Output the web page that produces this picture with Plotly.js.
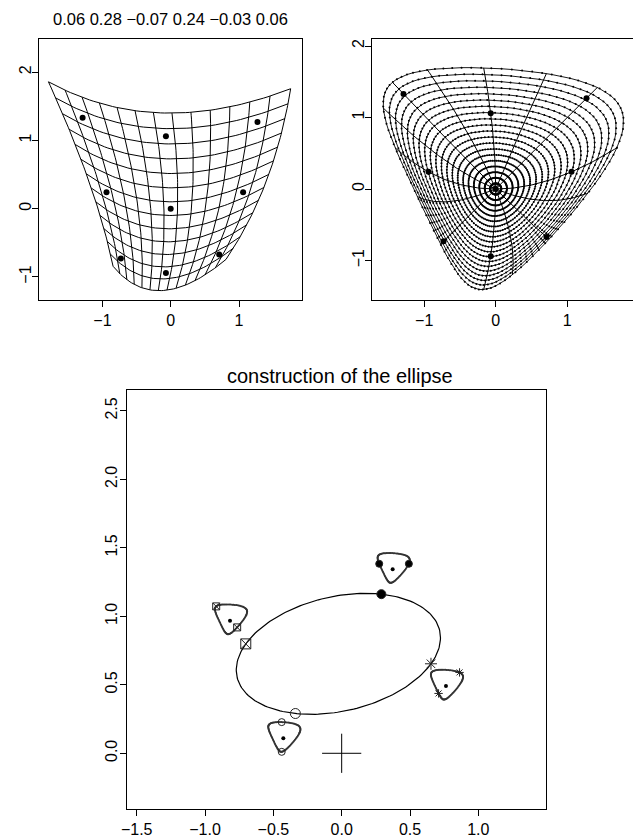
<!DOCTYPE html>
<html>
<head>
<meta charset="utf-8">
<script src="https://cdn.plot.ly/plotly-3.0.1.min.js"></script>
<style>
  html, body { margin: 0; padding: 0; background: #fff; overflow: hidden; }
  #chart { width: 633px; height: 839px; }
</style>
</head>
<body>
<div id="chart"></div>
<script>
// Coefficients of the quadratic map (u,v) -> (x,y):
// x = u + c0 u^2 + c1 uv + c2 v^2,  y = v + c3 u^2 + c4 uv + c5 v^2
const coefs = [0.06, 0.28, -0.07, 0.24, -0.03, 0.06];

// design points: every (u,v) pair from these levels
const designLevels = [-1, 0, 1];

// rectangular mesh levels in the (u,v) plane
const gridLevels = [-1.3, -1.1, -0.9, -0.7, -0.5, -0.3, -0.1, 0.1, 0.3, 0.5, 0.7, 0.9, 1.1, 1.3];

// polar mesh: circle radii and spoke directions (degrees)
const circleRadii = [0.0775, 0.155, 0.2325, 0.31, 0.3875, 0.465, 0.5425, 0.62, 0.6975, 0.775,
                     0.8525, 0.93, 1.0075, 1.085, 1.1625, 1.24, 1.3175, 1.395, 1.4725, 1.55];
const spokeAngles = [0, 45, 67.5, 90, 112.5, 135, 157.5, 180, 202.5, 225, 270, 292.5, 315, 337.5];

// ellipse of the quadratic part, traced for directions of this length
const ellipseRadius = 2.2;

// the four marked directions (degrees) and their symbols
const markedAngles = [0, 45, 90, 135];
const markedSymbols = ['circle', 'asterisk-open', 'circle-open', 'square-x-open'];

// centres of the small copies of the outer boundary, one per marked direction
const glyphCenterX = [0.373, 0.763, -0.427, -0.817];
const glyphCenterY = [1.343, 0.491, 0.109, 0.968];
const glyphShrink = 0.07;

const titleTop = coefs.map(v => (v < 0 ? '\u2212' + Math.abs(v).toFixed(2) : v.toFixed(2))).join(' ');

function quad(u, v) {
  const [a, b, c, d, e, f] = coefs;
  return [a * u * u + b * u * v + c * v * v, d * u * u + e * u * v + f * v * v];
}
function mapUV(u, v) {
  const q = quad(u, v);
  return [u + q[0], v + q[1]];
}
function linspace(a, b, n) {
  const out = [];
  for (let i = 0; i < n; i++) out.push(a + (b - a) * i / (n - 1));
  return out;
}
const rad = d => d * Math.PI / 180;

// ---------- left panel: mapped rectangular mesh ----------
const gLo = gridLevels[0], gHi = gridLevels[gridLevels.length - 1];
const meshX = [], meshY = [];
gridLevels.forEach(L => {
  linspace(gLo, gHi, 60).forEach(t => { const p = mapUV(L, t); meshX.push(p[0]); meshY.push(p[1]); });
  meshX.push(null); meshY.push(null);
  linspace(gLo, gHi, 60).forEach(t => { const p = mapUV(t, L); meshX.push(p[0]); meshY.push(p[1]); });
  meshX.push(null); meshY.push(null);
});

const ptsX = [], ptsY = [];
designLevels.forEach(u => designLevels.forEach(v => {
  const p = mapUV(u, v); ptsX.push(p[0]); ptsY.push(p[1]);
}));

// ---------- right panel: mapped polar mesh ----------
const outerR = circleRadii[circleRadii.length - 1];
const circX = [], circY = [];
circleRadii.forEach(r => {
  linspace(0, 2 * Math.PI, 100).forEach(p => {
    const q = mapUV(r * Math.cos(p), r * Math.sin(p)); circX.push(q[0]); circY.push(q[1]);
  });
  circX.push(null); circY.push(null);
});
const spokeX = [], spokeY = [];
spokeAngles.forEach(a => {
  linspace(0, outerR, 50).forEach(t => {
    const q = mapUV(t * Math.cos(rad(a)), t * Math.sin(rad(a))); spokeX.push(q[0]); spokeY.push(q[1]);
  });
  spokeX.push(null); spokeY.push(null);
});

// ---------- bottom panel: ellipse construction ----------
const r2 = ellipseRadius * ellipseRadius;
const ellX = [], ellY = [];
linspace(0, Math.PI, 200).forEach(t => {
  const q = quad(Math.cos(t), Math.sin(t)); ellX.push(r2 * q[0]); ellY.push(r2 * q[1]);
});

const fontFam = 'Liberation Sans, Arial, Helvetica, sans-serif';
const traces = [];

traces.push({ x: meshX, y: meshY, xaxis: 'x', yaxis: 'y', type: 'scatter', mode: 'lines',
  line: { color: '#000', width: 1 }, hoverinfo: 'skip' });
traces.push({ x: ptsX, y: ptsY, xaxis: 'x', yaxis: 'y', type: 'scatter', mode: 'markers',
  marker: { color: '#000', size: 6 }, hoverinfo: 'skip' });

traces.push({ x: circX, y: circY, xaxis: 'x2', yaxis: 'y2', type: 'scatter', mode: 'lines+markers',
  line: { color: '#000', width: 0.9 }, marker: { color: '#000', size: 2 }, hoverinfo: 'skip' });
traces.push({ x: spokeX, y: spokeY, xaxis: 'x2', yaxis: 'y2', type: 'scatter', mode: 'lines',
  line: { color: '#000', width: 1 }, hoverinfo: 'skip' });
traces.push({ x: ptsX, y: ptsY, xaxis: 'x2', yaxis: 'y2', type: 'scatter', mode: 'markers',
  marker: { color: '#000', size: 6 }, hoverinfo: 'skip' });

traces.push({ x: ellX, y: ellY, xaxis: 'x3', yaxis: 'y3', type: 'scatter', mode: 'lines',
  line: { color: '#000', width: 1.2 }, hoverinfo: 'skip' });

markedAngles.forEach((a, i) => {
  // small copy of the outer boundary
  const gx = [], gy = [];
  linspace(0, 2 * Math.PI, 100).forEach(p => {
    const q = mapUV(outerR * Math.cos(p), outerR * Math.sin(p));
    gx.push(glyphCenterX[i] + glyphShrink * q[0]);
    gy.push(glyphCenterY[i] + glyphShrink * q[1]);
  });
  traces.push({ x: gx, y: gy, xaxis: 'x3', yaxis: 'y3', type: 'scatter', mode: 'lines+markers',
    line: { color: '#444', width: 1 }, marker: { color: '#333', size: 2 }, hoverinfo: 'skip' });
  traces.push({ x: [glyphCenterX[i]], y: [glyphCenterY[i]], xaxis: 'x3', yaxis: 'y3', type: 'scatter',
    mode: 'markers', marker: { color: '#000', size: 4 }, hoverinfo: 'skip' });

  // the direction and its opposite on the small copy
  const mx = [], my = [];
  [a, a + 180].forEach(d => {
    const q = mapUV(outerR * Math.cos(rad(d)), outerR * Math.sin(rad(d)));
    mx.push(glyphCenterX[i] + glyphShrink * q[0]);
    my.push(glyphCenterY[i] + glyphShrink * q[1]);
  });
  const filled = markedSymbols[i] === 'circle';
  traces.push({ x: mx, y: my, xaxis: 'x3', yaxis: 'y3', type: 'scatter', mode: 'markers',
    marker: { symbol: markedSymbols[i], size: 7, color: filled ? '#000' : '#222',
      line: { color: '#222', width: 1 } }, hoverinfo: 'skip' });

  // the same direction on the ellipse
  const qe = quad(Math.cos(rad(a)), Math.sin(rad(a)));
  traces.push({ x: [r2 * qe[0]], y: [r2 * qe[1]], xaxis: 'x3', yaxis: 'y3', type: 'scatter', mode: 'markers',
    marker: { symbol: markedSymbols[i], size: filled ? 9 : 10, color: filled ? '#000' : '#222',
      line: { color: '#222', width: 1 } }, hoverinfo: 'skip' });
});

// origin cross
traces.push({ x: [0], y: [0], xaxis: 'x3', yaxis: 'y3', type: 'scatter', mode: 'markers',
  marker: { symbol: 'cross-thin-open', size: 28, color: '#000', line: { color: '#000', width: 1 } },
  hoverinfo: 'skip' });

const W = 633, H = 839;
const dx = (a, b) => [a / W, b / W];
const dy = (top, bottom) => [1 - bottom / H, 1 - top / H];

function axisBase(extra) {
  return Object.assign({
    showgrid: false, zeroline: false, showline: true, mirror: true,
    linecolor: '#000', linewidth: 1, ticks: 'outside', ticklen: 6, tickwidth: 1, tickcolor: '#000',
    tickfont: { family: fontFam, size: 16, color: '#000' }, fixedrange: true, tickmode: 'array'
  }, extra);
}
const minus = v => (v < 0 ? '\u2212' + Math.abs(v) : String(v));
const minus1 = v => (v < 0 ? '\u2212' + Math.abs(v).toFixed(1) : v.toFixed(1));

const layout = {
  width: W, height: H, autosize: false,
  margin: { l: 0, r: 0, t: 0, b: 0 },
  paper_bgcolor: '#fff', plot_bgcolor: '#fff', showlegend: false, hovermode: false,
  font: { family: fontFam, color: '#000' },
  xaxis: axisBase({ domain: dx(39.3, 301.7), range: [-1.924, 1.918], anchor: 'y',
    tickvals: [-1, 0, 1], ticktext: [-1, 0, 1].map(minus) }),
  yaxis: axisBase({ domain: dy(39.3, 300), range: [-1.337, 2.48], anchor: 'x', tickangle: -90,
    ticklabelstandoff: -5, tickvals: [-1, 0, 1, 2], ticktext: [-1, 0, 1, 2].map(minus) }),
  xaxis2: axisBase({ domain: dx(372.3, 633), range: [-1.726, 1.92], anchor: 'y2',
    tickvals: [-1, 0, 1], ticktext: [-1, 0, 1].map(minus) }),
  yaxis2: axisBase({ domain: dy(39.3, 300), range: [-1.552, 2.094], anchor: 'x2', tickangle: -90, mirror: false,
    ticklabelstandoff: -5, tickvals: [-1, 0, 1, 2], ticktext: [-1, 0, 1, 2].map(minus) }),
  xaxis3: axisBase({ domain: dx(126.7, 546), range: [-1.573, 1.495], anchor: 'y3',
    tickvals: [-1.5, -1, -0.5, 0, 0.5, 1], ticktext: [-1.5, -1, -0.5, 0, 0.5, 1].map(minus1) }),
  yaxis3: axisBase({ domain: dy(390, 808.5), range: [-0.403, 2.652], anchor: 'x3', tickangle: -90,
    ticklabelstandoff: -4, tickvals: [0, 0.5, 1, 1.5, 2, 2.5], ticktext: [0, 0.5, 1, 1.5, 2, 2.5].map(minus1) }),
  annotations: [
    { text: titleTop, xref: 'paper', yref: 'paper', x: 170.5 / W, y: 1 - 18.5 / H,
      xanchor: 'center', yanchor: 'middle', showarrow: false, font: { family: fontFam, size: 16.5, color: '#000' } },
    { text: 'construction of the ellipse', xref: 'paper', yref: 'paper', x: 340 / W, y: 1 - 376 / H,
      xanchor: 'center', yanchor: 'middle', showarrow: false, font: { family: fontFam, size: 20, color: '#000' } }
  ]
};

Plotly.newPlot('chart', traces, layout, { staticPlot: true, displayModeBar: false });
</script>
</body>
</html>
